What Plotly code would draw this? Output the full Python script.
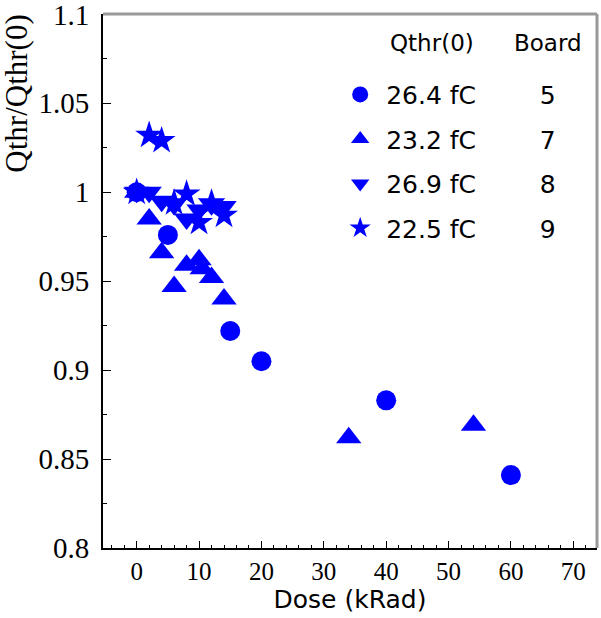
import plotly.graph_objects as go

# Board 5 (circles), Qthr(0)=26.4 fC
b5_x = [0, 5, 15, 20, 40, 60]
b5_y = [1.0, 0.976, 0.922, 0.905, 0.883, 0.841]
# Board 7 (triangles up), Qthr(0)=23.2 fC
b7_x = [0, 2, 4, 6, 8, 10, 10.5, 12, 14, 34, 54]
b7_y = [1.0, 0.985, 0.966, 0.947, 0.959, 0.962, 0.957, 0.952, 0.940, 0.862, 0.869]
# Board 8 (triangles down), Qthr(0)=26.9 fC
b8_x = [0, 2, 4, 6, 8, 10, 12, 14]
b8_y = [1.0, 1.0, 0.995, 0.993, 0.985, 0.990, 0.993, 0.992]
# Board 9 (stars), Qthr(0)=22.5 fC
b9_x = [0, 2, 4, 6, 8, 10, 12, 14]
b9_y = [1.0, 1.032, 1.029, 0.994, 0.999, 0.983, 0.994, 0.987]

names = ["26.4 fC", "23.2 fC", "26.9 fC", "22.5 fC"]
boards = ["5", "7", "8", "9"]
symbols = ["circle", "triangle-up", "triangle-down", "star"]
sizes = [20, 22, 22, 21]
xs = [b5_x, b7_x, b8_x, b9_x]
ys = [b5_y, b7_y, b8_y, b9_y]

NB = "\u00a0"
fig = go.Figure()
for i in range(4):
    fig.add_trace(go.Scatter(
        x=xs[i], y=ys[i], mode="markers",
        name=names[i] + NB * 8 + boards[i],
        legendgroup="g%d" % i,
        marker=dict(symbol=symbols[i], size=sizes[i], color="#0000ff", line=dict(width=0)),
    ))

fig.update_layout(
    width=601, height=618,
    margin=dict(l=103, r=4, t=14, b=70, autoexpand=False),
    paper_bgcolor="white", plot_bgcolor="white",
    showlegend=True,
    legend=dict(
        x=0.468, y=0.892, xanchor="left", yanchor="top",
        bgcolor="rgba(0,0,0,0)",
        font=dict(family="DejaVu Sans", size=25, color="black"),
        traceorder="grouped", tracegroupgap=9, itemwidth=42,
    ),
    xaxis=dict(
        range=[-5.4, 73.8], tickvals=[0, 10, 20, 30, 40, 50, 60, 70],
        ticks="inside", ticklen=7, tickwidth=1, tickcolor="black",
        minor=dict(dtick=2, ticks="inside", ticklen=3, tickcolor="black"),
        showgrid=False, zeroline=False, automargin=False,
        showline=True, linecolor="black", linewidth=2,
        tickfont=dict(family="Liberation Serif", size=25, color="black"),
        title=dict(text="Dose (kRad)", font=dict(family="DejaVu Sans", size=25, color="black"), standoff=4),
    ),
    yaxis=dict(
        range=[0.8, 1.1002], tickvals=[0.8, 0.85, 0.9, 0.95, 1.0, 1.05, 1.1],
        ticktext=["0.8", "0.85", "0.9", "0.95", "1", "1.05", "1.1"],
        ticks="inside", ticklen=8, tickwidth=1, tickcolor="black",
        minor=dict(dtick=0.025, ticks="inside", ticklen=4, tickcolor="black"),
        showgrid=False, zeroline=False, automargin=False,
        showline=True, linecolor="black", linewidth=2,
        tickfont=dict(family="Liberation Serif", size=29, color="black"),
        ticklabelstandoff=6, ticklabeloverflow="allow",
    ),
)
# gray top/right frame
fig.add_shape(type="line", xref="paper", yref="paper", x0=0, x1=1, y0=1, y1=1,
              line=dict(color="#999999", width=3))
fig.add_shape(type="line", xref="paper", yref="paper", x0=1, x1=1, y0=0, y1=1,
              line=dict(color="#999999", width=3))
# legend header
fig.add_annotation(text="Qthr(0)", xref="paper", yref="paper",
                   x=(388 - 103) / 494, y=1 - (43 - 14) / 534, xanchor="left", yanchor="middle",
                   showarrow=False, font=dict(family="DejaVu Sans", size=23, color="black"))
fig.add_annotation(text="Board", xref="paper", yref="paper",
                   x=(512 - 103) / 494, y=1 - (43 - 14) / 534, xanchor="left", yanchor="middle",
                   showarrow=False, font=dict(family="DejaVu Sans", size=23, color="black"))
fig.add_annotation(text="Qthr/Qthr(0)", xref="paper", yref="paper",
                   x=-0.175, y=0.85, xanchor="center", yanchor="middle",
                   textangle=-90, showarrow=False,
                   font=dict(family="Liberation Serif", size=31, color="black"))

fig.write_html("out.html")
